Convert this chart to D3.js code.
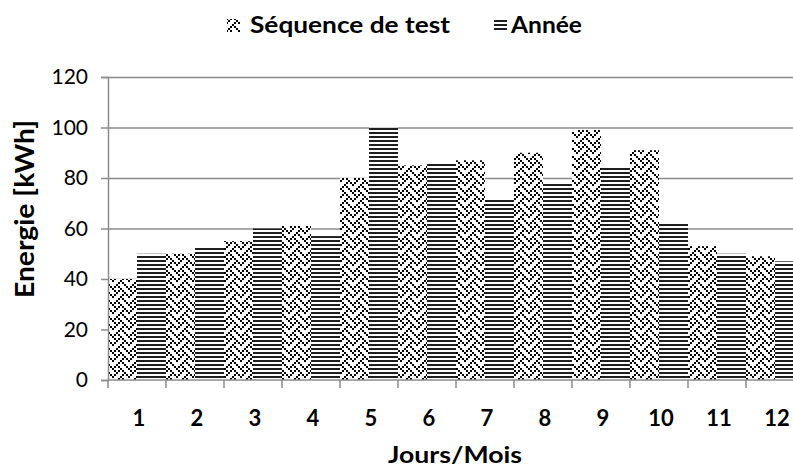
<!DOCTYPE html>
<html>
<head>
<meta charset="utf-8">
<script src="https://cdn.jsdelivr.net/npm/d3@7"></script>
<style>
  body { margin: 0; background: #fff; }
  svg { display: block; font-family: Lato, "Open Sans", sans-serif; }
</style>
</head>
<body>
<script>
const months = ["1", "2", "3", "4", "5", "6", "7", "8", "9", "10", "11", "12"];
const sequence = [40, 50, 55, 61, 80, 85, 87, 90, 99, 91, 53, 49];
const annee = [50, 53, 60, 57, 100, 86, 72, 78, 84.5, 62, 50, 47];
const yTicks = [0, 20, 40, 60, 80, 100, 120];
const seriesNames = ["Séquence de test", "Année"];

const svgWidth = 793;
const svgHeight = 470;
const plotLeft = 108, plotTop = 77, plotBottom = 380;
const groupWidth = 58;

window.onload = main;

function main() {
    const svg = d3.select("body")
        .append("svg")
        .attr("width", svgWidth)
        .attr("height", svgHeight);

    const defs = svg.append("defs");

    // weave hatch, 8x8 bitmap scaled by 2
    const weaveRows = [0x88, 0x54, 0x22, 0x45, 0x88, 0x14, 0x22, 0x51];
    const cell = 2;
    const weave = defs.append("pattern")
        .attr("id", "weave")
        .attr("patternUnits", "userSpaceOnUse")
        .attr("width", 8 * cell)
        .attr("height", 8 * cell);
    weave.append("rect").attr("width", 8 * cell).attr("height", 8 * cell).attr("fill", "#fff");
    weaveRows.forEach((row, r) => {
        for (let c = 0; c < 8; c++) {
            if (row & (0x80 >> c)) {
                weave.append("rect")
                    .attr("x", c * cell).attr("y", r * cell)
                    .attr("width", cell).attr("height", cell)
                    .attr("fill", "#000");
            }
        }
    });

    // horizontal stripes
    const stripes = defs.append("pattern")
        .attr("id", "stripes")
        .attr("patternUnits", "userSpaceOnUse")
        .attr("width", 8)
        .attr("height", 4);
    stripes.append("rect").attr("width", 8).attr("height", 4).attr("fill", "#fff");
    stripes.append("rect").attr("width", 8).attr("height", 2).attr("fill", "#1e1e1e");

    const x = d3.scaleBand()
        .domain(months)
        .range([plotLeft, plotLeft + groupWidth * months.length])
        .padding(0);

    const xSub = d3.scaleBand()
        .domain(seriesNames)
        .range([0, x.bandwidth()])
        .padding(0);

    const y = d3.scaleLinear()
        .domain([0, 120])
        .range([plotBottom, plotTop]);

    const fills = {"Séquence de test": "url(#weave)", "Année": "url(#stripes)"};
    const values = {"Séquence de test": sequence, "Année": annee};

    // gridlines
    svg.append("g")
        .attr("transform", `translate(${plotLeft},0)`)
        .call(d3.axisLeft(y).tickValues(yTicks.slice(1)).tickSize(-(svgWidth - plotLeft)).tickFormat(""))
        .call(g => g.select(".domain").remove())
        .call(g => g.selectAll("line").attr("stroke", "#8c8c8c").attr("stroke-width", 1.5));

    // bars
    seriesNames.forEach(name => {
        svg.append("g")
            .selectAll("rect")
            .data(months)
            .join("rect")
            .attr("x", (d, i) => x(d) + xSub(name))
            .attr("y", (d, i) => y(values[name][i]))
            .attr("width", xSub.bandwidth())
            .attr("height", (d, i) => y(0) - y(values[name][i]))
            .attr("fill", fills[name]);
    });

    // y axis
    svg.append("g")
        .attr("transform", `translate(${plotLeft},0)`)
        .call(d3.axisLeft(y).tickValues(yTicks).tickSize(7).tickPadding(13))
        .call(g => g.select(".domain").attr("stroke", "#8c8c8c").attr("stroke-width", 1.5))
        .call(g => g.selectAll("line").attr("stroke", "#8c8c8c").attr("stroke-width", 1.5))
        .call(g => g.selectAll("text")
            .attr("font-size", 21)
            .attr("font-family", "Lato, sans-serif")
            .attr("fill", "#000"));

    // x axis line
    svg.append("line")
        .attr("x1", plotLeft).attr("x2", svgWidth)
        .attr("y1", y(0)).attr("y2", y(0))
        .attr("stroke", "#8c8c8c").attr("stroke-width", 1.5);

    // boundary ticks
    svg.append("g")
        .selectAll("line")
        .data(months)
        .join("line")
        .attr("x1", d => x(d)).attr("x2", d => x(d))
        .attr("y1", y(0)).attr("y2", y(0) + 8)
        .attr("stroke", "#8c8c8c").attr("stroke-width", 1.5);

    // x labels
    svg.append("g")
        .selectAll("text")
        .data(months)
        .join("text")
        .attr("x", d => x(d) + x.bandwidth() / 2 + 2)
        .attr("y", 426)
        .attr("text-anchor", "middle")
        .attr("font-size", 22)
        .attr("font-weight", "bold")
        .text(d => d);

    // axis titles
    svg.append("text")
        .attr("x", 388)
        .attr("y", 463)
        .attr("font-size", 23)
        .attr("font-weight", "bold")
        .attr("textLength", 134)
        .attr("lengthAdjust", "spacingAndGlyphs")
        .text("Jours/Mois");

    svg.append("text")
        .attr("transform", "translate(34,209) rotate(-90)")
        .attr("text-anchor", "middle")
        .attr("font-size", 27)
        .attr("font-weight", "bold")
        .attr("textLength", 178)
        .attr("lengthAdjust", "spacingAndGlyphs")
        .text("Energie [kWh]");

    // legend
    const legend = [
        {name: "Séquence de test", sx: 227, tx: 250, len: 200},
        {name: "Année", sx: 494, tx: 511, len: 71}
    ];
    const lg = svg.append("g");
    lg.selectAll("rect")
        .data(legend)
        .join("rect")
        .attr("x", d => d.sx).attr("y", 19)
        .attr("width", 13).attr("height", 13)
        .attr("fill", d => fills[d.name]);
    lg.selectAll("text")
        .data(legend)
        .join("text")
        .attr("x", d => d.tx).attr("y", 33)
        .attr("font-size", 23)
        .attr("font-weight", "bold")
        .attr("textLength", d => d.len)
        .attr("lengthAdjust", "spacingAndGlyphs")
        .text(d => d.name);
}
</script>
</body>
</html>
